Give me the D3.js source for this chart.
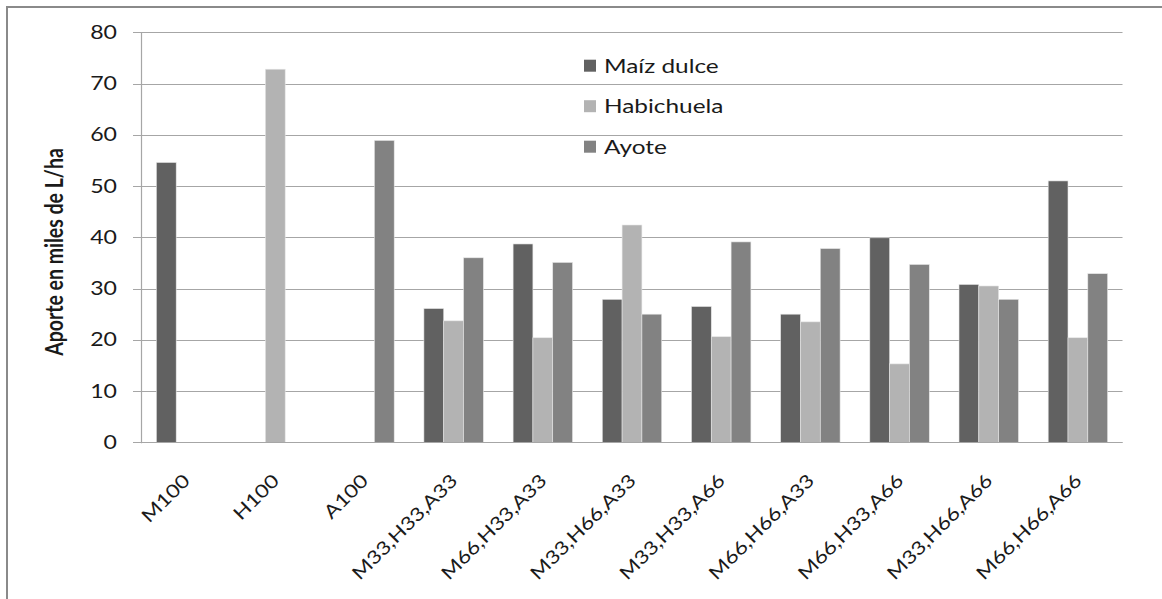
<!DOCTYPE html>
<html>
<head>
<meta charset="utf-8">
<script src="https://cdn.jsdelivr.net/npm/d3@7"></script>
<style>
html,body{margin:0;padding:0;background:#fff;}
svg{display:block;}
text{font-family:Lato, "Open Sans", sans-serif;fill:#1a1a1a;}
</style>
</head>
<body>
<svg id="chart" width="1162" height="599"></svg>
<script>
const categories = ["M100","H100","A100","M33,H33,A33","M66,H33,A33","M33,H66,A33","M33,H33,A66","M66,H66,A33","M66,H33,A66","M33,H66,A66","M66,H66,A66"];
const seriesNames = ["Maíz dulce","Habichuela","Ayote"];
const maiz       = [54.6, null, null, 26.1, 38.7, 27.9, 26.5, 25.0, 39.9, 30.8, 51.0];
const habichuela = [null, 72.8, null, 23.7, 20.4, 42.4, 20.6, 23.5, 15.3, 30.5, 20.4];
const ayote      = [null, null, 58.9, 36.0, 35.1, 25.0, 39.1, 37.8, 34.7, 27.9, 32.9];
const yTicks = [0,10,20,30,40,50,60,70,80];
const yTitle = "Aporte en miles de L/ha";

const colors = ["#616161","#b3b3b3","#828282"];
const seriesValues = [maiz, habichuela, ayote];
const SX = 1.25;        // horizontal text stretch of the reference
const FS = 18.5;

const svg = d3.select("#chart");

// outer chart border (cropped at right/bottom)
svg.append("rect").attr("x",7).attr("y",7).attr("width",1300).attr("height",800)
  .attr("fill","none").attr("stroke","#8a8a8a").attr("stroke-width",2);

const plot = {left:141.5, right:1122.5, top:32.3, bottom:442.3};
const x = d3.scaleBand().domain(categories).range([plot.left, plot.right]).paddingInner(0).paddingOuter(0);
const xs = d3.scaleBand().domain(seriesNames).range([0, x.bandwidth()]).paddingInner(0).paddingOuter(0.75);
const y = d3.scaleLinear().domain([0,80]).range([plot.bottom, plot.top]);

// gridlines + ticks
const grid = svg.append("g");
grid.selectAll("line").data(yTicks).join("line")
  .attr("x1", plot.left-8.5).attr("x2", plot.right)
  .attr("y1", d=>Math.round(y(d))+0.5).attr("y2", d=>Math.round(y(d))+0.5)
  .attr("stroke","#a6a6a6").attr("stroke-width",1.2);

// y axis line
svg.append("line").attr("x1",plot.left).attr("x2",plot.left).attr("y1",plot.top).attr("y2",plot.bottom+1)
  .attr("stroke","#a6a6a6").attr("stroke-width",1.2);

// bars
const bars = [];
seriesValues.forEach((arr, si) => arr.forEach((v, ci) => { if (v != null) bars.push({s:si, c:categories[ci], v}); }));
svg.append("g").selectAll("rect").data(bars).join("rect")
  .attr("x", d => x(d.c) + xs(seriesNames[d.s]))
  .attr("width", xs.bandwidth())
  .attr("y", d => y(d.v))
  .attr("height", d => y(0) - y(d.v))
  .attr("fill", d => colors[d.s])
  .attr("stroke", "#e6e6e6").attr("stroke-width", 0.6);

// baseline
svg.append("line").attr("x1",plot.left).attr("x2",plot.right)
  .attr("y1",Math.round(y(0))+0.5).attr("y2",Math.round(y(0))+0.5)
  .attr("stroke","#a6a6a6").attr("stroke-width",1.2);

// y tick labels
svg.append("g").selectAll("text").data(yTicks).join("text")
  .attr("transform", d => `translate(117,${y(d)}) scale(${SX},1)`)
  .attr("text-anchor","end").attr("dy","0.36em")
  .style("font-size", FS+"px")
  .text(d => d);

// y title
svg.append("text")
  .attr("transform", `translate(63,252) scale(${SX},1) rotate(-90)`)
  .attr("text-anchor","middle")
  .style("font-size","19.5px").style("font-weight","bold")
  .text(yTitle);

// x labels
svg.append("g").selectAll("text").data(categories).join("text")
  .attr("transform", d => `translate(${x(d)+x.bandwidth()/2+5},482) rotate(-45) scale(1.2,1)`)
  .attr("text-anchor","end")
  .style("font-size", FS+"px")
  .text(d => d);

// legend
const lg = svg.append("g").selectAll("g").data(seriesNames).join("g")
  .attr("transform", (d,i) => `translate(584,${65.7 + i*40.5})`);
lg.append("rect").attr("x",0).attr("y",-6).attr("width",12).attr("height",12)
  .attr("fill",(d,i)=>colors[i]);
lg.append("text").attr("transform",`translate(20,0) scale(${SX},1)`).attr("dy","0.36em")
  .style("font-size","19.5px").text(d=>d);
</script>
</body>
</html>
